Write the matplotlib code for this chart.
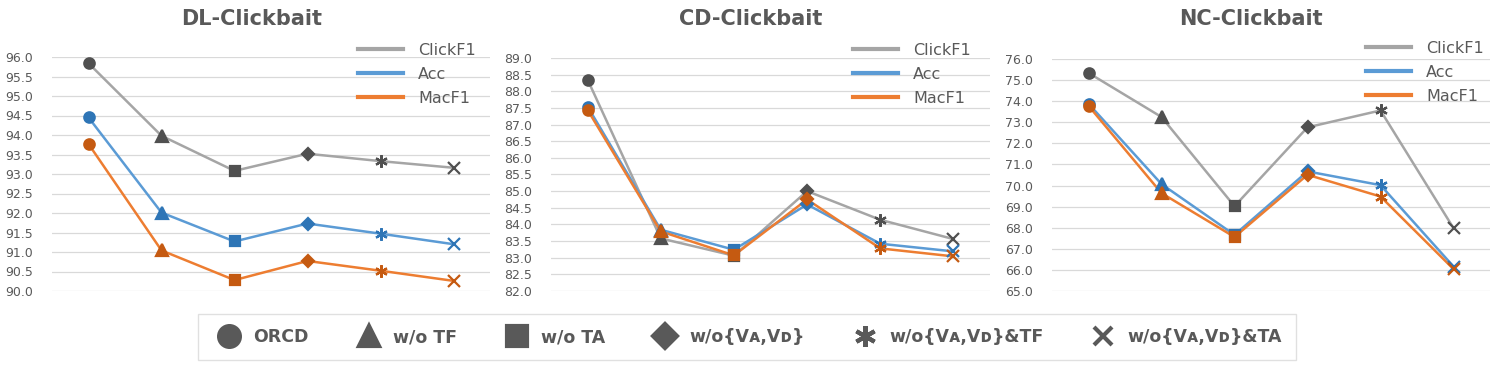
import matplotlib
matplotlib.use("Agg")
from matplotlib import pyplot as plt
from matplotlib.lines import Line2D
import numpy as np

# data
variants = ["ORCD", "w/o TF", "w/o TA", "w/o{V\u1d00,V\u1d05}",
            "w/o{V\u1d00,V\u1d05}&TF", "w/o{V\u1d00,V\u1d05}&TA"]
metrics = ["ClickF1", "Acc", "MacF1"]

dl_click = [95.84, 93.98, 93.08, 93.52, 93.33, 93.16]
dl_acc = [94.45, 92.01, 91.27, 91.73, 91.47, 91.20]
dl_mac = [93.77, 91.04, 90.28, 90.77, 90.52, 90.26]

cd_click = [88.35, 83.58, 83.06, 85.00, 84.14, 83.56]
cd_acc = [87.54, 83.84, 83.24, 84.60, 83.42, 83.19]
cd_mac = [87.44, 83.79, 83.07, 84.75, 83.28, 83.04]

nc_click = [75.34, 73.25, 69.02, 72.76, 73.56, 67.98]
nc_acc = [73.88, 70.07, 67.66, 70.67, 70.02, 66.16]
nc_mac = [73.78, 69.64, 67.56, 70.51, 69.48, 66.04]

titles = ["DL-Clickbait", "CD-Clickbait", "NC-Clickbait"]
ylims = [(90, 96, 0.5), (82, 89, 0.5), (65, 76, 1.0)]

line_colors = ["#A5A5A5", "#5B9BD5", "#ED7D31"]
mark_colors = ["#505050", "#2E75B6", "#C55A11"]
markers = ["o", "^", "s", "D", (6, 2, 0), "x"]
msizes = [7.5, 8, 7.5, 6, 9, 8]
txt = "#595959"

W, H = 1497, 369
fig = plt.figure(figsize=(W / 100, H / 100), dpi=100)


def box(l, r, t, b):
    return [l / W, 1 - b / H, (r - l) / W, (b - t) / H]


axes_px = [(52, 490, 57, 291), (551, 990, 58, 291), (1052, 1490, 59, 291)]
title_x = [252, 751, 1251]
leg_pos = [(358, 43), (853, 43), (1366, 41)]
data = [(dl_click, dl_acc, dl_mac), (cd_click, cd_acc, cd_mac), (nc_click, nc_acc, nc_mac)]

x = np.arange(len(variants))
for k in range(3):
    ax = fig.add_axes(box(*axes_px[k]))
    lo, hi, st = ylims[k]
    ax.set_xlim(-0.5, 5.5)
    ax.set_ylim(lo, hi)
    ax.set_yticks(np.arange(lo, hi + st / 2, st))
    ax.yaxis.set_major_formatter(matplotlib.ticker.FormatStrFormatter("%.1f"))
    ax.set_xticks([])
    ax.tick_params(axis="y", length=0, pad=13.5, labelsize=9, labelcolor=txt)
    for s in ax.spines.values():
        s.set_visible(False)
    ax.grid(axis="y", color="#D9D9D9", lw=0.9)
    ax.set_axisbelow(True)

    for j in [1, 2, 0]:
        y = data[k][j]
        ax.plot(x, y, color=line_colors[j], lw=1.8, zorder=2 + j * 0.1)
        for i in range(len(variants)):
            ax.plot(x[i], y[i], marker=markers[i], ms=msizes[i], color=mark_colors[j],
                    mec=mark_colors[j], mew=1.6, ls="none", zorder=3 + j * 0.1)
    handles = [Line2D([], [], color=c, lw=3) for c in line_colors]
    lx, ly = leg_pos[k]
    ax.legend(handles, metrics, loc="upper left", bbox_to_anchor=(lx / W, 1 - ly / H),
              bbox_transform=fig.transFigure, frameon=False, fontsize=11.5,
              labelcolor=txt, handlelength=2.8, handletextpad=0.95,
              borderpad=0, borderaxespad=0, labelspacing=0.55)

    fig.text(title_x[k] / W, 1 - 19 / H, titles[k], ha="center", va="center",
             fontsize=15, fontweight="bold", color=txt)

# bottom legend
leg_ms = [15, 15, 14, 12, 15, 13]
leg_handles = [Line2D([], [], marker=markers[i], ms=leg_ms[i], color="#595959",
                      mew=3, ls="none") for i in range(len(variants))]
leg = fig.legend(leg_handles, variants, loc="center", ncol=6,
                 bbox_to_anchor=(747 / W, 1 - 337 / H), frameon=True,
                 prop={"weight": "bold", "size": 12.5}, labelcolor=txt,
                 handletextpad=0.4, columnspacing=2.45, borderpad=0.8,
                 fancybox=False, edgecolor="#D9D9D9")
leg.get_frame().set_linewidth(1.0)

fig.savefig("out.png", dpi=100)
